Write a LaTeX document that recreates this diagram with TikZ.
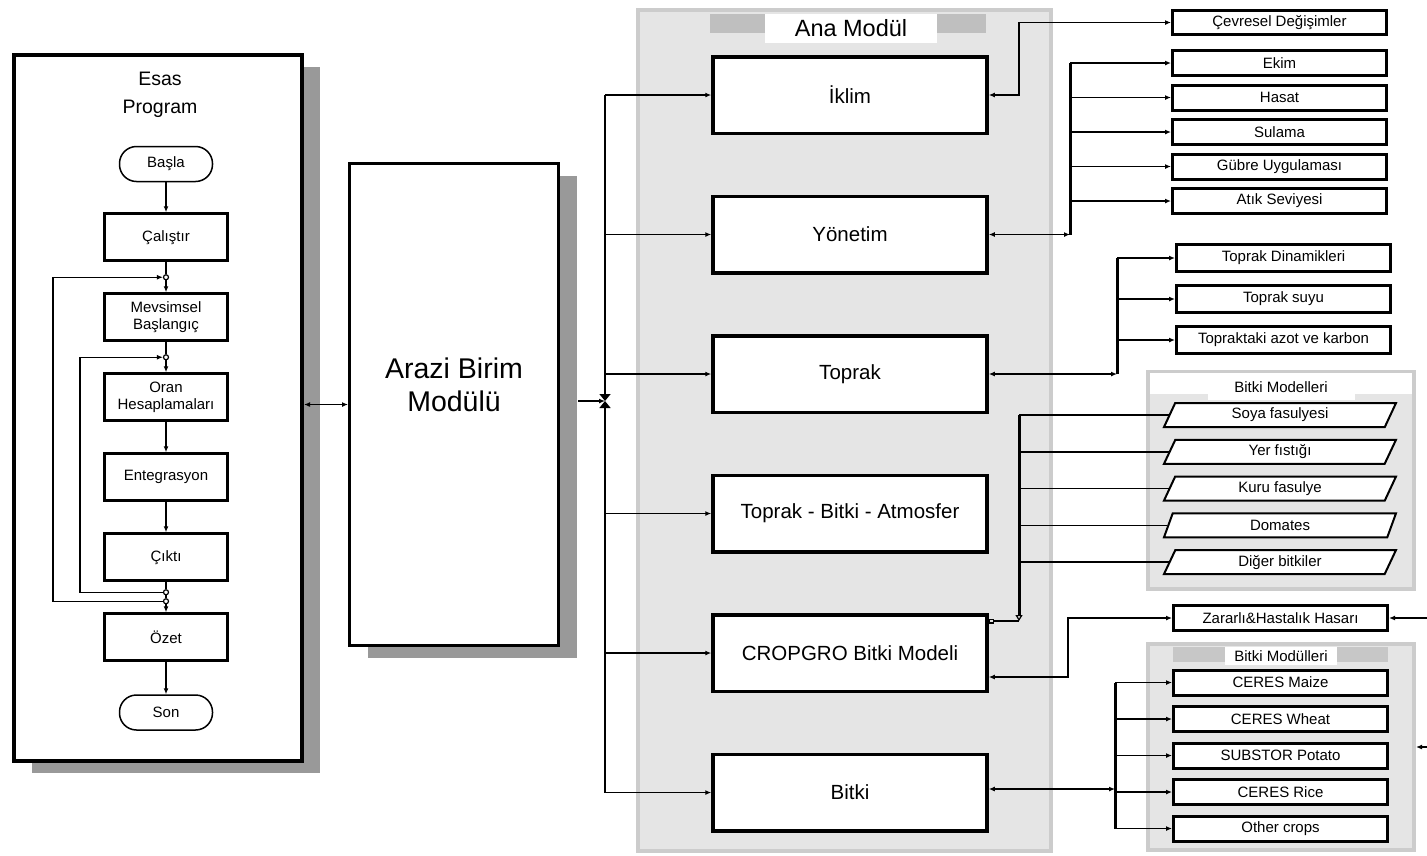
\documentclass[tikz,border=0pt]{standalone}
\usepackage{fontspec}
\setmainfont{Liberation Sans}
\usetikzlibrary{arrows.meta,positioning,shapes.geometric,shadows}

\begin{document}
\begin{tikzpicture}[x=1pt, y=-1pt, line width=1.5pt, every node/.style={font=\fontsize{15}{17}\selectfont, align=center}, fbox/.style={draw, line width=3pt, fill=white, minimum width=123pt, minimum height=47pt}, term/.style={draw, rounded corners=17pt, fill=white, minimum width=93pt, minimum height=35pt}, jdot/.style={draw, circle, fill=white, inner sep=0pt, minimum size=5pt, line width=1.2pt}, mbox/.style={draw, line width=3.5pt, fill=white, minimum width=274pt, minimum height=76.5pt, font=\fontsize{20.5}{24}\selectfont}, sbox/.style={draw, line width=3pt, fill=white, minimum width=214pt, minimum height=25pt, inner sep=1pt}, para/.style={draw, trapezium, trapezium left angle=55, trapezium right angle=125, trapezium stretches body, line width=2pt, fill=white, minimum width=232pt, minimum height=24pt, inner sep=1pt}, grp/.style={draw=black!20, line width=4pt, fill=black!10}, shad/.style={drop shadow={shadow xshift=18pt, shadow yshift=-12pt, fill=black!40, opacity=1}}, arr/.style={-{Latex[length=6pt,width=5pt]}}, dblarr/.style={{Latex[length=6pt,width=5pt]}-{Latex[length=6pt,width=5pt]}}, bus/.style={line width=3pt}, bow/.style={-{Triangle[length=7pt,width=11pt]}}]
\useasboundingbox (0,0) rectangle (1427,855);
\node[fbox, minimum width=288pt, minimum height=706pt, line width=4pt, shad] (esas) at (158,408) {};
\node[font=\fontsize{19.5}{28}\selectfont] (esastitle) at (160,95) {Esas\\Program};
\node[term] (basla) at (166,164) {Başla};
\node[fbox, below=30pt of basla] (calistir) {Çalıştır};
\node[fbox, below=30pt of calistir] (mevsim) {Mevsimsel\\Başlangıç};
\node[fbox, below=30pt of mevsim] (oran) {Oran\\Hesaplamaları};
\node[fbox, below=30pt of oran] (entegr) {Entegrasyon};
\node[fbox, below=30pt of entegr] (cikti) {Çıktı};
\node[fbox, below=30pt of cikti] (ozet) {Özet};
\node[term, below=32pt of ozet] (son) {Son};
\node[jdot] (jm) at ([yshift=-15pt]calistir.south) {};
\node[jdot] (jr) at ([yshift=-15pt]mevsim.south) {};
\node[jdot] (jc1) at ([yshift=-10pt]cikti.south) {};
\node[jdot] (jc2) at ([yshift=-19pt]cikti.south) {};
\coordinate (lout) at (53,0); \coordinate (lin) at (80,0);
\draw[arr] (basla) -- (calistir); \draw (calistir) -- (jm); \draw[arr] (jm) -- (mevsim); \draw (mevsim) -- (jr); \draw[arr] (jr) -- (oran);
\draw[arr] (oran) -- (entegr); \draw[arr] (entegr) -- (cikti); \draw (cikti) -- (jc1); \draw (jc1) -- (jc2); \draw[arr] (jc2) -- (ozet); \draw[arr] (ozet) -- (son);
\draw[arr] (jc2) -- (lout |- jc2) -- (lout |- jm) -- (jm); \draw[arr] (jc1) -- (lin |- jc1) -- (lin |- jr) -- (jr);
\node[fbox, minimum width=209pt, minimum height=482pt, shad, label={[font=\fontsize{28.5}{33}\selectfont, align=center, yshift=20pt]center:Arazi Birim\\Modülü}] (arazi) at (454,404.5) {};
\draw[dblarr] (arazi.west -| esas.east) -- (arazi.west);
\node[grp, minimum width=413pt, minimum height=841pt] (ana) at (844,430) {};
\fill[black!25] (710,14) rectangle (986,33);
\node[fill=white, minimum width=172pt, minimum height=29pt, font=\fontsize{23.5}{26}\selectfont] (anatitle) at (851,28.5) {Ana Modül};
\node[mbox] (iklim) at (850,95) {İklim};
\node[mbox, below=59.5pt of iklim] (yonetim) {Yönetim};
\node[mbox, below=59.5pt of yonetim] (toprak) {Toprak};
\node[mbox, below=59.5pt of toprak] (tba) {Toprak - Bitki - Atmosfer};
\node[mbox, below=59.5pt of tba] (cropgro) {CROPGRO Bitki Modeli};
\node[mbox, below=59.5pt of cropgro] (bitki) {Bitki};
\coordinate (jn) at (605,401); \coordinate (araziout) at ([xshift=18pt]arazi.east);
\draw[arr] (araziout |- jn) -- (jn); \draw[bow] (jn |- iklim.west) -- (jn); \draw[bow] (jn |- bitki.west) -- (jn);
\draw[arr] (jn |- iklim.west) -- (iklim.west); \draw[arr] (jn |- yonetim.west) -- (yonetim.west); \draw[arr] (jn |- toprak.west) -- (toprak.west);
\draw[arr] (jn |- tba.west) -- (tba.west); \draw[arr] (jn |- cropgro.west) -- (cropgro.west); \draw[arr] (jn |- bitki.west) -- (bitki.west);
\node[sbox, minimum height=24pt] (cevre) at (1279.5,22.5) {Çevresel Değişimler};
\coordinate (cx) at (1019,0);
\draw[dblarr] (iklim.east) -- (cx |- iklim.east) |- (cevre.west);
\node[sbox] (ekim) at (1279.5,63) {Ekim};
\node[sbox, below=6.5pt of ekim] (hasat) {Hasat};
\node[sbox, below=6.5pt of hasat] (sulama) {Sulama};
\node[sbox, below=6.5pt of sulama] (gubre) {Gübre Uygulaması};
\node[sbox, below=6.5pt of gubre] (atik) {Atık Seviyesi};
\coordinate (mj) at (1070,234.5);
\draw[bus] (mj) -- (mj |- ekim.west); \draw[dblarr] (yonetim.east) -- (mj);
\draw[arr] (mj |- ekim.west) -- (ekim.west); \draw[arr] (mj |- hasat.west) -- (hasat.west); \draw[arr] (mj |- sulama.west) -- (sulama.west); \draw[arr] (mj |- gubre.west) -- (gubre.west); \draw[arr] (mj |- atik.west) -- (atik.west);
\node[sbox, minimum height=27pt] (tdin) at (1283.5,258) {Toprak Dinamikleri};
\node[sbox, minimum height=27pt, below=11pt of tdin] (tsu) {Toprak suyu};
\node[sbox, minimum height=27pt, below=11pt of tsu] (tazot) {Topraktaki azot ve karbon};
\coordinate (sj) at (1117,374);
\draw[bus] (sj) -- (sj |- tdin.west); \draw[dblarr] (toprak.east) -- (sj);
\draw[arr] (sj |- tdin.west) -- (tdin.west); \draw[arr] (sj |- tsu.west) -- (tsu.west); \draw[arr] (sj |- tazot.west) -- (tazot.west);
\node[grp, minimum width=266pt, minimum height=217pt] (modeller) at (1281,480.5) {};
\fill[white] (1150,373) rectangle (1412,394); \fill[white] (1208,394) rectangle (1355,400);
\node (modtitle) at (1281,387) {Bitki Modelleri};
\node[para] (soya) at (1280,415) {Soya fasulyesi};
\node[para, below=10.75pt of soya] (yer) {Yer fıstığı};
\node[para, below=10.75pt of yer] (kuru) {Kuru fasulye};
\node[para, below=10.75pt of kuru] (domates) {Domates};
\node[para, below=10.75pt of domates] (diger) {Diğer bitkiler};
\coordinate (pj) at (1019,621);
\draw[bus, -{Triangle[open, length=6pt, width=7pt, line width=1.2pt]}] (pj |- soya.west) -- (pj);
\draw (pj |- soya.west) -- (soya.west); \draw (pj |- yer.west) -- (yer.west); \draw (pj |- kuru.west) -- (kuru.west); \draw (pj |- domates.west) -- (domates.west); \draw (pj |- diger.west) -- (diger.west);
\draw[{Square[open, length=5pt, width=5pt, line width=1.2pt]}-] (cropgro.east |- pj) -- (pj);
\node[sbox] (zarar) at (1280.5,618) {Zararlı\&Hastalık Hasarı};
\coordinate (zj) at (1068,677); \coordinate (redge) at (1427,0);
\draw[dblarr] (cropgro.east |- zj) -- (zj) |- (zarar.west); \draw[arr] (redge |- zarar.east) -- (zarar.east);
\node[grp, minimum width=266pt, minimum height=206pt] (moduller) at (1281,747) {};
\fill[black!22] (1173,647) rectangle (1388,662);
\node[fill=white, minimum width=112pt, minimum height=18pt, inner sep=0pt] (modultitle) at (1281,656) {Bitki Modülleri};
\node[sbox] (maize) at (1280.5,682.5) {CERES Maize};
\node[sbox, below=8.5pt of maize] (wheat) {CERES Wheat};
\node[sbox, below=8.5pt of wheat] (potato) {SUBSTOR Potato};
\node[sbox, below=8.5pt of potato] (rice) {CERES Rice};
\node[sbox, below=8.5pt of rice] (other) {Other crops};
\coordinate (bj) at (1115,789);
\draw[bus] (bj |- maize.west) -- (bj |- other.west); \draw[dblarr] (bitki.east |- bj) -- (bj);
\draw[arr] (bj |- maize.west) -- (maize.west); \draw[arr] (bj |- wheat.west) -- (wheat.west); \draw[arr] (bj |- potato.west) -- (potato.west); \draw[arr] (bj |- rice.west) -- (rice.west); \draw[arr] (bj |- other.west) -- (other.west);
\draw[arr] (redge |- moduller.east) -- (moduller.east);
\end{tikzpicture}
\end{document}
